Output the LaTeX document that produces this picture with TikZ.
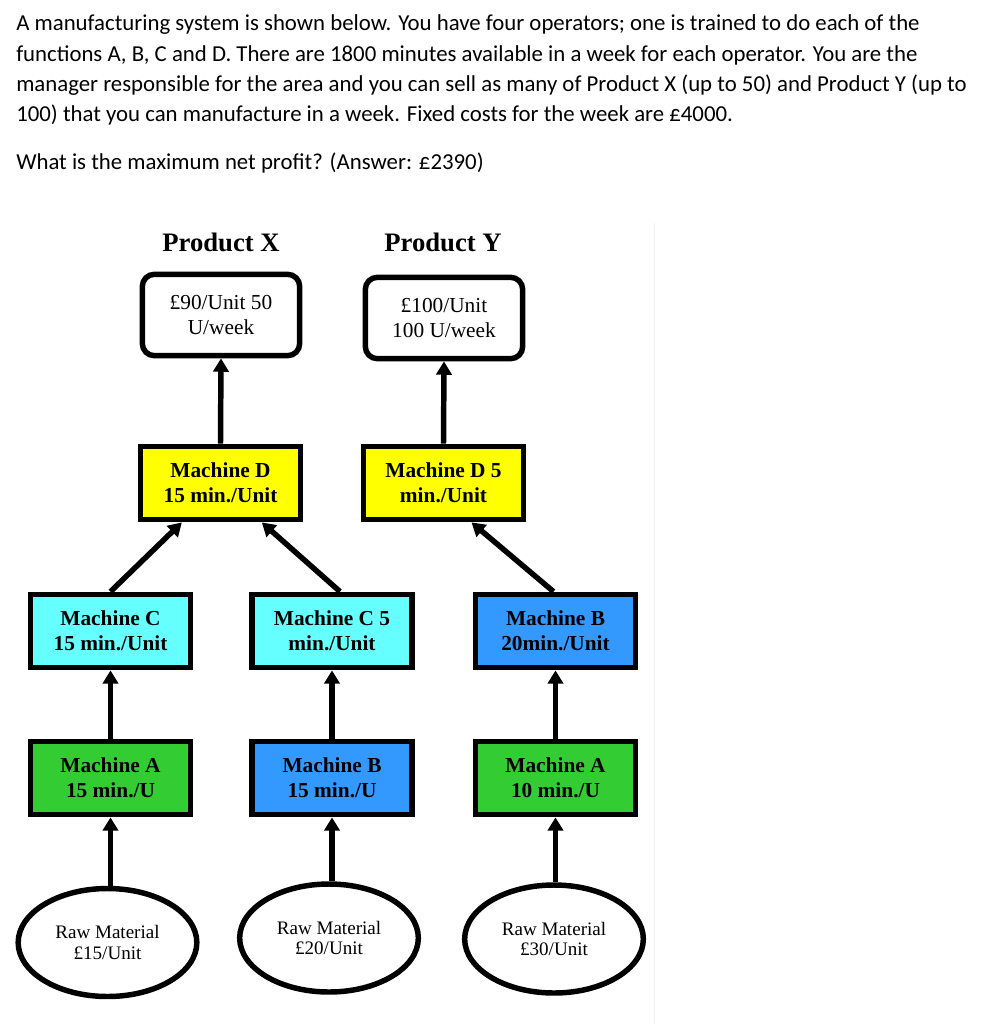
\documentclass[tikz,border=0pt]{standalone}
\usepackage{fontspec}
\setmainfont{Liberation Serif}
\newfontfamily\calfont{Carlito}
\usetikzlibrary{arrows.meta,shapes.geometric,calc}
\definecolor{myyellow}{HTML}{FFFF00}
\definecolor{mycyan}{HTML}{66FFFF}
\definecolor{myblue}{HTML}{3399FF}
\definecolor{mygreen}{HTML}{33CC33}
\definecolor{framegray}{HTML}{F2F2F2}
\begin{document}
\begin{tikzpicture}[x=0.75pt,y=-0.75pt,
  para/.style={anchor=base west, inner sep=0pt, font=\calfont\fontsize{17.1}{20}\selectfont},
  title/.style={inner sep=0pt, font=\fontsize{20}{24}\selectfont\bfseries},
  machine/.style={draw=black, line width=4.1pt, minimum width=120pt, minimum height=55pt, inner sep=0pt, align=center, font=\fontsize{16}{18.5}\selectfont\bfseries},
  product/.style={draw=black, fill=white, line width=4.1pt, rounded corners=9pt, minimum width=118pt, minimum height=61pt, inner sep=0pt, align=center, font=\fontsize{16}{18.75}\selectfont},
  raw/.style={draw=black, ellipse, line width=4.1pt, minimum width=134pt, minimum height=81pt, inner sep=0pt, align=center, font=\fontsize{14.3}{15.5}\selectfont},
  arr/.style={line width=4.1pt, -{Triangle[width=11.5pt,length=10pt]}}
]
\useasboundingbox (0,0) rectangle (981,1024);
\fill[white] (0,0) rectangle (981,1024);

% question text
\node[para] (t1) at (16,31) {A manufacturing system is shown below. You have four operators; one is trained to do each of the};
\node[para] (t2) at (16,62) {functions A, B, C and D. There are 1800 minutes available in a week for each operator. You are the};
\node[para] (t3) at (16,92) {manager responsible for the area and you can sell as many of Product X (up to 50) and Product Y (up to};
\node[para] (t4) at (16,122) {100) that you can manufacture in a week. Fixed costs for the week are £4000.};
\node[para] (t5) at (16,169) {What is the maximum net profit? (Answer: £2390)};

% faint frame edge
\coordinate (f1) at (654,223);
\coordinate (f2) at (654,1024);
\draw[framegray, line width=0.75pt] (f1) -- (f2);

% titles
\node[title] (lx) at (221,242) {Product X};
\node[title] (ly) at (443,242) {Product Y};

% product boxes
\node[product] (px) at (221,315) {£90/Unit 50\\U/week};
\node[product] (py) at (444,318) {£100/Unit\\100 U/week};

% machine D
\node[machine, fill=myyellow] (dx) at (220.5,483) {Machine D\\15 min./Unit};
\node[machine, fill=myyellow] (dy) at (443.5,483) {Machine D 5\\min./Unit};

% second row
\node[machine, fill=mycyan] (c1) at (110.5,631) {Machine C\\15 min./Unit};
\node[machine, fill=mycyan] (c2) at (332,631) {Machine C 5\\min./Unit};
\node[machine, fill=myblue] (b1) at (555.5,631) {Machine B\\20min./Unit};

% third row
\node[machine, fill=mygreen] (a1) at (110.5,778) {Machine A\\15 min./U};
\node[machine, fill=myblue] (b2) at (332,778) {Machine B\\15 min./U};
\node[machine, fill=mygreen] (a2) at (555.5,778) {Machine A\\10 min./U};

% raw material
\node[raw] (r1) at (107.5,942.5) {Raw Material\\£15/Unit};
\node[raw] (r2) at (329,938) {Raw Material\\£20/Unit};
\node[raw] (r3) at (554,939) {Raw Material\\£30/Unit};

% connectors
\draw[arr] (dx.north) -- (px.south);
\draw[arr] (dy.north) -- (py.south);
\draw[arr] (c1.north) -- ([xshift=-29pt]dx.south);
\draw[arr] ([xshift=6pt]c2.north) -- ([xshift=31pt]dx.south);
\draw[arr] ([xshift=-1.5pt]b1.north) -- ([xshift=21pt]dy.south);
\draw[arr] (a1.north) -- (c1.south);
\draw[arr] (b2.north) -- (c2.south);
\draw[arr] (a2.north) -- (b1.south);
\draw[arr] (r1.north -| a1.south) -- (a1.south);
\draw[arr] (r2.north -| b2.south) -- (b2.south);
\draw[arr] (r3.north -| a2.south) -- (a2.south);
\end{tikzpicture}
\end{document}
